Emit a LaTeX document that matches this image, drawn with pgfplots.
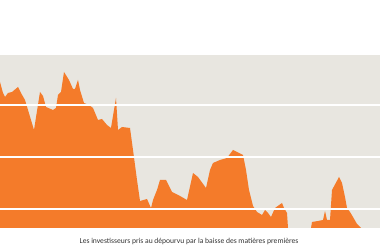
\documentclass[border=0pt]{standalone}
\usepackage{pgfplots}
\pgfplotsset{compat=1.18}
\usepackage{fontspec}
\setmainfont{Carlito}
\definecolor{bgc}{HTML}{E8E6E0}
\definecolor{org}{HTML}{F47B2A}
\definecolor{txt}{HTML}{333333}
\begin{document}
\begin{tikzpicture}
\path[use as bounding box] (0,-22bp) rectangle (380bp,228bp);
\begin{axis}[
  at={(0,0)}, anchor=south west,
  scale only axis, width=380bp, height=173bp,
  xmin=0, xmax=380, ymin=0, ymax=173,
  axis line style={draw=none},
  axis background/.style={fill=bgc},
  axis on top=true,
  ytick={19,71,123}, xtick=\empty,
  ymajorgrids, grid style={white, line width=1.2bp},
  yticklabels={}, major tick length=0pt,
]
\addplot[fill=org, draw=none] coordinates {
(0,0)(0,146)(3,135)(5,131)(8,135)(12,136)(18,141)(21,135)(25,128)(34,98)(40,136)(43,132)(46,121)(53,118)(56,120)(58,133)(61,136)(64,156)(69,148)(73,139)(75,139)(78,148)(80,138)(84,125)(89,123)(93,120)(98,108)(102,109)(107,103)(111,100)(116,130)(118,98)(122,101)(130,100)(133,78)(137,48)(140,27)(147,29)(151,20)(153,28)(157,38)(160,48)(166,48)(172,36)(180,32)(187,28)(193,55)(198,51)(206,40)(210,58)(213,65)(220,68)(227,70)(233,78)(243,73)(246,58)(249,38)(253,22)(257,16)(262,13)(265,18)(268,15)(271,11)(275,20)(282,25)(284,20)(287,15)(288,0)(311,0)(312,6)(318,7)(323,8)(325,17)(327,8)(330,8)(332,38)(339,51)(342,45)(345,31)(347,20)(350,16)(353,11)(357,4)(361,0)(380,0)
} \closedcycle;
\end{axis}
\node[font=\fontsize{7.6bp}{8bp}\selectfont, text=txt, inner sep=0] at (189bp,-13bp) {Les investisseurs pris au dépourvu par la baisse des matières premières};
\end{tikzpicture}
\end{document}
